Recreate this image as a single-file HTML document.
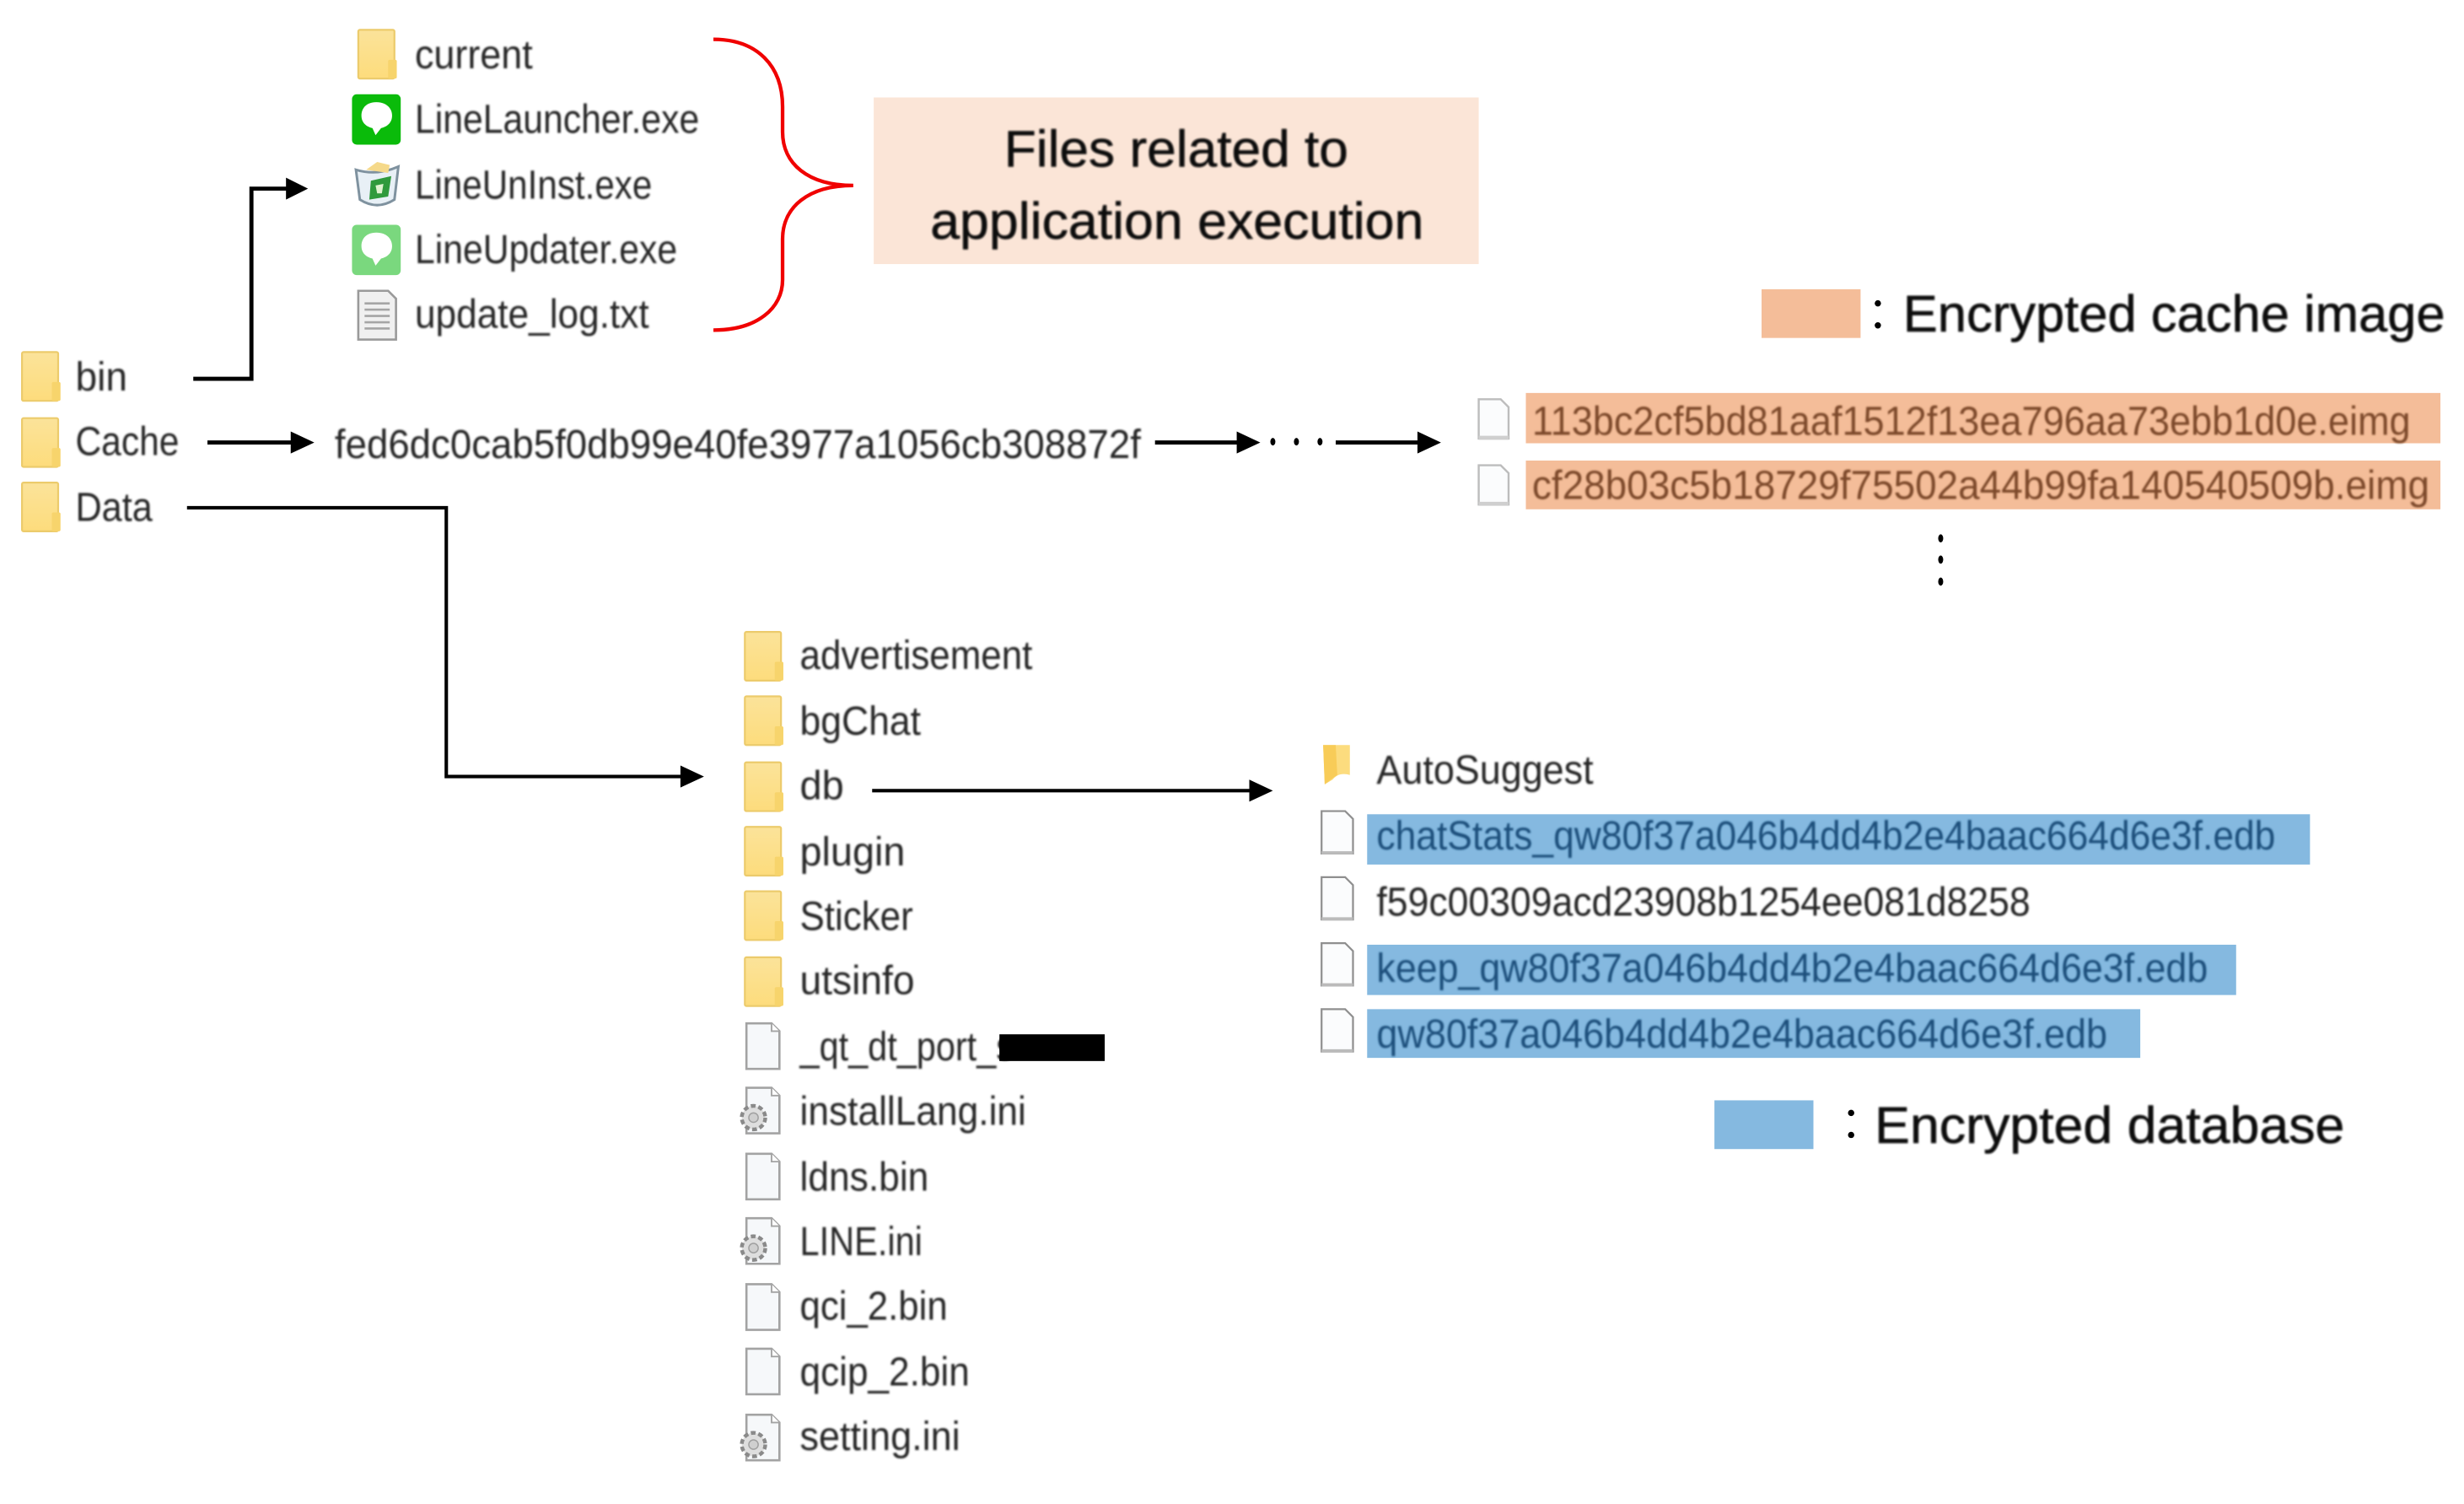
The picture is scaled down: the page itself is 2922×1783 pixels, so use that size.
<!DOCTYPE html>
<html><head><meta charset="utf-8"><style>
html,body{margin:0;padding:0;background:#fff;width:2922px;height:1783px;overflow:hidden}
svg{display:block}
text{font-family:"Liberation Sans",sans-serif}
.f{font-size:26px;fill:#262626}
.g{font-size:33px;fill:#0a0a0a;stroke:#0a0a0a;stroke-width:.3}
.o{font-size:26px;fill:#7d4a2c}
.b{font-size:26px;fill:#1c4f7c}
</style></head><body>
<svg width="2922" height="1783" viewBox="0 0 1568 956.8" xmlns="http://www.w3.org/2000/svg">
<defs>
<filter id="s" x="-5%" y="-20%" width="110%" height="140%"><feGaussianBlur stdDeviation="0.5"/></filter>
<linearGradient id="y" x1="0" y1="0" x2="0" y2="1"><stop offset="0" stop-color="#fbe39a"/><stop offset="1" stop-color="#fddc7c"/></linearGradient>
<g id="folder"><rect x="0" y="0" width="23" height="31" rx="1" fill="url(#y)" stroke="#eccb6c" stroke-width="1.2"/><rect x="19" y="19" width="5.5" height="12" rx="1" fill="#f7d46c"/></g>
<g id="file"><path d="M1 1H17L22 6V30H1Z" fill="#f6f8fa" stroke="#a3a3a3" stroke-width="1.4"/><path d="M17 1V6H22" fill="#fff" stroke="#a3a3a3" stroke-width="1"/></g>
<g id="ini"><use href="#file"/><circle cx="5.500" cy="20" r="7.500" fill="#dedede" stroke="#8a8a8a" stroke-width="2.400" stroke-dasharray="3 1.800"/><circle cx="5.500" cy="20" r="3" fill="#cfcfcf" stroke="#a0a0a0" stroke-width=".8"/></g>
<g id="wfile"><path d="M1 1H15L20 6V26H1Z" fill="#fbfcfd" stroke="#bdbdbd" stroke-width="1.3"/><path d="M1 25.5H20" stroke="#cfcfcf" stroke-width="2.5"/></g>
<g id="lfile"><path d="M1 1H16L21 6V28H1Z" fill="#fbfcfd" stroke="#8f8f8f" stroke-width="1.2"/><path d="M1 27.5H21" stroke="#bbb" stroke-width="2"/></g>
<g id="bubble"><path d="M12 7C5.5 7 2.5 11 2.5 15.5C2.5 20 5.5 22.5 9.5 23.5L11.5 28L15 23.5C19 22.5 22 20 22 15.5C22 11 18.5 7 12 7Z" fill="#fff"/></g>
</defs>
<rect width="1568" height="956.8" fill="#fff"/>

<!-- boxes -->
<rect x="556" y="62" width="385" height="106" fill="#fbe5d7"/>
<rect x="1121" y="184" width="63" height="31" fill="#f4bd99"/>
<rect x="971" y="250" width="582" height="32" fill="#f4bd99"/>
<rect x="971" y="293" width="582" height="31" fill="#f4bd99"/>
<rect x="870" y="518" width="600" height="32" fill="#85b9e0"/>
<rect x="870" y="601" width="553" height="32" fill="#85b9e0"/>
<rect x="870" y="642" width="492" height="31" fill="#85b9e0"/>
<rect x="1091" y="700" width="63" height="31" fill="#85b9e0"/>

<!-- icons -->
<use href="#folder" x="228" y="19"/>
<rect x="224" y="60" width="31" height="32" rx="3" fill="#0abb0a"/><use href="#bubble" x="227.5" y="58"/>
<g><path d="M226.500 108Q240 112 253.500 106L251 127Q240 134 229 127Z" fill="#e8f0f6" stroke="#7f929f" stroke-width="1.600"/><path d="M233 108L240 103L248 105L247 110Z" fill="#f5d98a"/><path d="M236 115L249 112L247 125L235 127Z" fill="#2f9a3c"/><path d="M239 118L244 117L243 123L240 123Z" fill="#dff3d0"/></g>
<rect x="224" y="143" width="31" height="32" rx="3" fill="#7ad87e"/><use href="#bubble" x="227.5" y="141"/>
<g><path d="M228 185H247L252 190V216H228Z" fill="#f0f0f0" stroke="#9a9a9a" stroke-width="1.4"/><path d="M232 193H248M232 197H248M232 201H248M232 205H248M232 209H248" stroke="#a5a5a5" stroke-width="1.4"/></g>
<use href="#folder" x="14" y="224"/>
<use href="#folder" x="14" y="266"/>
<use href="#folder" x="14" y="307"/>
<use href="#folder" x="474" y="402"/>
<use href="#folder" x="474" y="443"/>
<use href="#folder" x="474" y="485"/>
<use href="#folder" x="474" y="526"/>
<use href="#folder" x="474" y="567"/>
<use href="#folder" x="474" y="609"/>
<use href="#file" x="474" y="650"/>
<use href="#ini" x="474" y="691"/>
<use href="#file" x="474" y="733"/>
<use href="#ini" x="474" y="774"/>
<use href="#file" x="474" y="816"/>
<use href="#file" x="474" y="857"/>
<use href="#ini" x="474" y="899"/>
<use href="#wfile" x="940" y="253"/>
<use href="#wfile" x="940" y="295"/>
<path d="M842 474H859V493Q852 491 848 496L843 499Z" fill="#fcdc7e"/><path d="M842 474H850L851 493Q848 495 843 499Z" fill="#f8cc58"/>
<use href="#lfile" x="840" y="515"/>
<use href="#lfile" x="840" y="557"/>
<use href="#lfile" x="840" y="599"/>
<use href="#lfile" x="840" y="641"/>

<!-- connectors -->
<g fill="none" stroke="#000" stroke-width="2.6">
<path d="M123 241H160V120H186"/>
<path d="M132 281.5H187"/>
<path d="M735 281.5H790"/>
<path d="M850 281.5H905"/>
<path d="M119 323H284V494H436" stroke-width="2.2"/>
<path d="M555 503H797" stroke-width="2.2"/>
</g>
<g fill="#000">
<path d="M182 113L196 120L182 127Z"/>
<path d="M185 274.5L200 281.5L185 288.5Z"/>
<path d="M787 274.5L802 281.5L787 288.5Z"/>
<path d="M902 274.5L917 281.5L902 288.5Z"/>
<path d="M433 487L448 494L433 501Z"/>
<path d="M795 496L810 503L795 510Z"/>
<ellipse cx="810" cy="281" rx="1.600" ry="2.400"/><ellipse cx="825" cy="281" rx="1.600" ry="2.400"/><ellipse cx="840" cy="281" rx="1.600" ry="2.400"/>
<ellipse cx="1235" cy="342.500" rx="1.600" ry="2.600"/><ellipse cx="1235" cy="356" rx="1.600" ry="2.600"/><ellipse cx="1235" cy="370" rx="1.600" ry="2.600"/>
<circle cx="1195" cy="193" r="2"/><circle cx="1195" cy="207" r="2"/>
<circle cx="1178" cy="708" r="2"/><circle cx="1178" cy="722" r="2"/>
</g>
<path d="M454 25C482 25 498 42 498 68V84C498 104 514 118 543 118C514 118 498 132 498 152V178C498 196 482 210 454 210" fill="none" stroke="#f00000" stroke-width="2.3"/>

<!-- labels -->
<g filter="url(#s)" transform="translate(0,-0.5)">
<text class="f" x="264" y="44" textLength="75" lengthAdjust="spacingAndGlyphs">current</text>
<text class="f" x="264" y="85" textLength="181" lengthAdjust="spacingAndGlyphs">LineLauncher.exe</text>
<text class="f" x="264" y="127" textLength="151" lengthAdjust="spacingAndGlyphs">LineUnInst.exe</text>
<text class="f" x="264" y="168" textLength="167" lengthAdjust="spacingAndGlyphs">LineUpdater.exe</text>
<text class="f" x="264" y="209" textLength="149" lengthAdjust="spacingAndGlyphs">update_log.txt</text>
<text class="f" x="48" y="249" textLength="33" lengthAdjust="spacingAndGlyphs">bin</text>
<text class="f" x="48" y="290" textLength="66" lengthAdjust="spacingAndGlyphs">Cache</text>
<text class="f" x="48" y="332" textLength="49" lengthAdjust="spacingAndGlyphs">Data</text>
<text class="f" x="213" y="292" textLength="513" lengthAdjust="spacingAndGlyphs">fed6dc0cab5f0db99e40fe3977a1056cb308872f</text>
<text class="f" x="509" y="426" textLength="148" lengthAdjust="spacingAndGlyphs">advertisement</text>
<text class="f" x="509" y="468" textLength="77" lengthAdjust="spacingAndGlyphs">bgChat</text>
<text class="f" x="509" y="509" textLength="28" lengthAdjust="spacingAndGlyphs">db</text>
<text class="f" x="509" y="551" textLength="67" lengthAdjust="spacingAndGlyphs">plugin</text>
<text class="f" x="509" y="592" textLength="72" lengthAdjust="spacingAndGlyphs">Sticker</text>
<text class="f" x="509" y="633" textLength="73" lengthAdjust="spacingAndGlyphs">utsinfo</text>
<text class="f" x="509" y="675" textLength="136" lengthAdjust="spacingAndGlyphs">_qt_dt_port_s</text>
<text class="f" x="509" y="716" textLength="144" lengthAdjust="spacingAndGlyphs">installLang.ini</text>
<text class="f" x="509" y="758" textLength="82" lengthAdjust="spacingAndGlyphs">ldns.bin</text>
<text class="f" x="509" y="799" textLength="78" lengthAdjust="spacingAndGlyphs">LINE.ini</text>
<text class="f" x="509" y="840" textLength="94" lengthAdjust="spacingAndGlyphs">qci_2.bin</text>
<text class="f" x="509" y="882" textLength="108" lengthAdjust="spacingAndGlyphs">qcip_2.bin</text>
<text class="f" x="509" y="923" textLength="102" lengthAdjust="spacingAndGlyphs">setting.ini</text>
<text class="o" x="975" y="277" textLength="559" lengthAdjust="spacingAndGlyphs">113bc2cf5bd81aaf1512f13ea796aa73ebb1d0e.eimg</text>
<text class="o" x="975" y="318" textLength="571" lengthAdjust="spacingAndGlyphs">cf28b03c5b18729f75502a44b99fa140540509b.eimg</text>
<text class="f" x="876" y="499" textLength="138" lengthAdjust="spacingAndGlyphs">AutoSuggest</text>
<text class="b" x="876" y="541" textLength="572" lengthAdjust="spacingAndGlyphs">chatStats_qw80f37a046b4dd4b2e4baac664d6e3f.edb</text>
<text class="f" x="876" y="583" textLength="416" lengthAdjust="spacingAndGlyphs">f59c00309acd23908b1254ee081d8258</text>
<text class="b" x="876" y="625" textLength="529" lengthAdjust="spacingAndGlyphs">keep_qw80f37a046b4dd4b2e4baac664d6e3f.edb</text>
<text class="b" x="876" y="667" textLength="465" lengthAdjust="spacingAndGlyphs">qw80f37a046b4dd4b2e4baac664d6e3f.edb</text>
<text class="g" x="639" y="106.500" textLength="219" lengthAdjust="spacingAndGlyphs">Files related to</text>
<text class="g" x="592" y="152.500" textLength="314" lengthAdjust="spacingAndGlyphs">application execution</text>
<text class="g" x="1211" y="211.500" textLength="345" lengthAdjust="spacingAndGlyphs">Encrypted cache image</text>
<text class="g" x="1193" y="727.500" textLength="299" lengthAdjust="spacingAndGlyphs">Encrypted database</text>
</g>
<rect x="636" y="658" width="67" height="17" fill="#000"/>
</svg>
</body></html>
